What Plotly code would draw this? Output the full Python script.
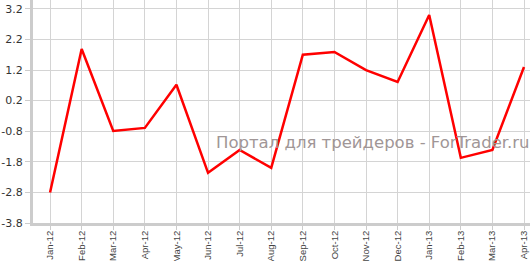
import plotly.graph_objects as go

months = ["Jan-12", "Feb-12", "Mar-12", "Apr-12", "May-12", "Jun-12", "Jul-12", "Aug-12",
          "Sep-12", "Oct-12", "Nov-12", "Dec-12", "Jan-13", "Feb-13", "Mar-13", "Apr-13"]
values = [-2.8, 1.89, -0.79, -0.69, 0.72, -2.16, -1.41, -2.0,
          1.70, 1.79, 1.2, 0.81, 3.0, -1.67, -1.41, 1.30]
y_ticks = [-3.8, -2.8, -1.8, -0.8, 0.2, 1.2, 2.2, 3.2]
watermark = "Портал для трейдеров - ForTrader.ru"

xs = list(range(len(months)))

fig = go.Figure()
fig.add_trace(go.Scatter(x=xs, y=values, mode="lines",
                         line=dict(color="#ff0000", width=2.5), hoverinfo="skip"))

fig.update_layout(
    width=530, height=261,
    margin=dict(l=33, r=0, t=0, b=38),
    paper_bgcolor="white", plot_bgcolor="white",
    showlegend=False,
    xaxis=dict(
        range=[-0.54, 15.19], tickvals=xs, ticktext=months, tickangle=-90,
        showgrid=True, gridcolor="#d4d4d4", gridwidth=1,
        showline=True, linecolor="#cccccc", linewidth=3,
        ticks="outside", ticklen=4, tickcolor="#cccccc",
        ticklabelstandoff=-3,
        tickfont=dict(family="Arial, Liberation Sans", size=9.5, color="#444444"),
        zeroline=False, fixedrange=True, automargin=False,
    ),
    yaxis=dict(
        range=[-3.8, 3.49], tickvals=y_ticks, ticktext=[f"{v:.1f}" for v in y_ticks],
        showgrid=True, gridcolor="#d4d4d4", gridwidth=1,
        showline=True, linecolor="#cccccc", linewidth=3,
        ticks="outside", ticklen=5, tickcolor="#cccccc",
        tickfont=dict(family="DejaVu Sans", size=11, color="#333333"),
        zeroline=False, fixedrange=True, automargin=False,
    ),
    annotations=[dict(
        text=watermark, xref="paper", yref="paper", x=0.364, y=0.359,
        xanchor="left", yanchor="middle", showarrow=False,
        font=dict(family="DejaVu Sans", size=16.5, color="rgb(160,150,150)"),
    )],
)

fig.write_html("out.html")
